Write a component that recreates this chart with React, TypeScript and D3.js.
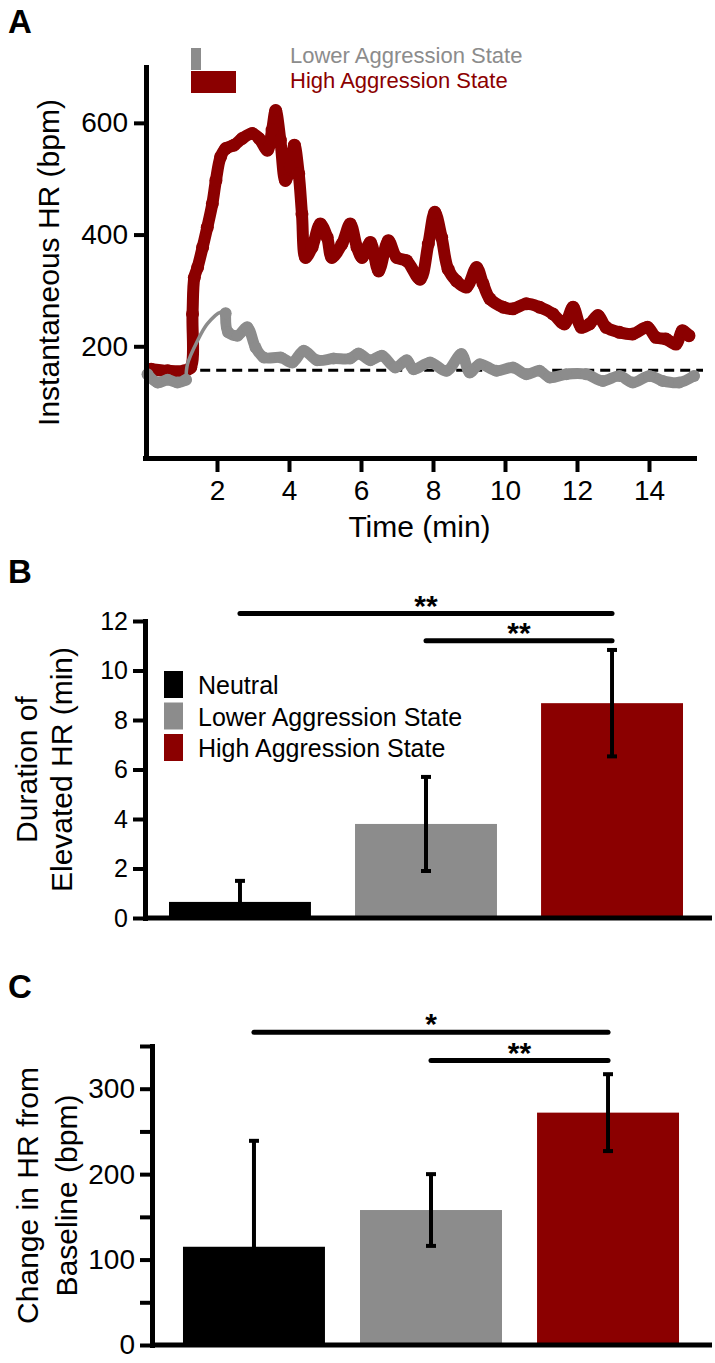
import React, { useEffect, useRef } from "react";
import * as d3 from "d3";

const RED = "#8b0000";
const GRAY = "#8c8c8c";
const FONT = "'Liberation Sans', Arial, Helvetica, sans-serif";

// Panel A: instantaneous HR traces, [time (min), HR (bpm)]
const highTrace = [
  [0.17, 159], [0.63, 156], [1.09, 156], [1.27, 162], [1.32, 258], [1.37, 323],
  [1.46, 341], [1.6, 377], [1.73, 413], [1.87, 455], [1.97, 497], [2.1, 539],
  [2.24, 554], [2.47, 560], [2.7, 572], [2.98, 581], [3.17, 572], [3.4, 551],
  [3.53, 587], [3.63, 622], [3.76, 569], [3.9, 497], [4.04, 521], [4.15, 560],
  [4.27, 509], [4.36, 437], [4.46, 359], [4.64, 377], [4.87, 419], [5.06, 395],
  [5.19, 359], [5.47, 383], [5.7, 419], [5.89, 377], [6.03, 359], [6.26, 386],
  [6.49, 335], [6.76, 389], [6.99, 359], [7.27, 353], [7.64, 320], [7.87, 383],
  [8.05, 440], [8.24, 395], [8.42, 338], [8.65, 317], [8.93, 306], [9.21, 341],
  [9.39, 312], [9.58, 285], [9.95, 270], [10.22, 267], [10.59, 276], [10.96, 270],
  [11.33, 258], [11.65, 240], [11.89, 270], [12.12, 234], [12.35, 240], [12.58, 255],
  [12.81, 234], [13.18, 225], [13.55, 222], [13.96, 234], [14.19, 216], [14.47, 213],
  [14.75, 204], [14.93, 228], [15.11, 219],
];
const lowStart = [[0.07, 150], [0.35, 135], [0.63, 140], [0.9, 135], [1.14, 140]];
const lowRise = [[1.14, 140], [1.18, 168], [1.46, 210], [1.73, 240], [2.1, 261], [2.24, 259]];
const lowTail = [
  [2.24, 259], [2.31, 225], [2.57, 219], [2.84, 234], [3.07, 198], [3.3, 180],
  [3.77, 180], [4.09, 171], [4.41, 192], [4.78, 175], [5.24, 178], [5.7, 178],
  [5.93, 187], [6.26, 175], [6.58, 183], [6.95, 162], [7.27, 175], [7.46, 159],
  [7.92, 171], [8.38, 156], [8.79, 186], [9.02, 153], [9.3, 168], [9.76, 156],
  [10.22, 162], [10.59, 150], [10.96, 156], [11.24, 144], [11.7, 150], [12.25, 150],
  [12.72, 138], [13.18, 147], [13.55, 135], [14.01, 147], [14.38, 138], [14.84, 135],
  [15.25, 147],
];
const baselineHR = 157;
const timeTicks = [2, 4, 6, 8, 10, 12, 14];
const hrTicks = [200, 400, 600];
const traceLegend = ["Lower Aggression State", "High Aggression State"];

// Panels B and C
const groups = ["Neutral", "Lower Aggression State", "High Aggression State"];
const groupColors = ["#000000", GRAY, RED];
const durationMean = [0.65, 3.8, 8.68];
const durationErr = [0.85, 1.9, 2.15];
const durationTicks = [0, 2, 4, 6, 8, 10, 12];
const durationSigFrom = [0, 1];
const durationSigLevel = [12.3, 11.2];
const durationSigText = ["**", "**"];

const changeMean = [115, 158, 272];
const changeErr = [124, 42, 45];
const changeTicks = [0, 50, 100, 150, 200, 250, 300, 350];
const changeSigFrom = [0, 1];
const changeSigLevel = [366, 333];
const changeSigText = ["*", "**"];

function styleAxis(g, size) {
  g.attr("font-family", FONT).attr("font-size", size);
  g.select(".domain").attr("stroke-width", 5).attr("stroke-linecap", "square");
  g.selectAll(".tick line").attr("stroke-width", 4);
  g.selectAll(".tick text").attr("fill", "#000");
}

function panelLetter(svg, letter, y) {
  svg.append("text").attr("x", 8).attr("y", y).attr("font-size", 33)
    .attr("font-weight", "bold").text(letter);
}

function drawBarPanel(svg, o) {
  const x = d3.scaleBand().domain(groups).range(o.xRange)
    .paddingInner(o.padIn).paddingOuter(o.padOut);
  const y = d3.scaleLinear().domain(o.domain).range(o.yRange);
  const cx = (i) => x(groups[i]) + x.bandwidth() / 2;

  svg.append("g").selectAll("rect").data(o.mean).join("rect")
    .attr("x", (d, i) => x(groups[i]))
    .attr("y", (d) => y(d))
    .attr("width", x.bandwidth())
    .attr("height", (d) => y(0) - y(d))
    .attr("fill", (d, i) => groupColors[i]);

  const eb = svg.append("g").attr("stroke", "#000").attr("stroke-width", 4);
  o.mean.forEach((m, i) => {
    const lo = Math.max(0, m - o.err[i]);
    const hi = m + o.err[i];
    eb.append("line").attr("x1", cx(i)).attr("x2", cx(i)).attr("y1", y(lo)).attr("y2", y(hi));
    eb.append("line").attr("x1", cx(i) - 5).attr("x2", cx(i) + 5).attr("y1", y(hi)).attr("y2", y(hi));
    if (lo > 0)
      eb.append("line").attr("x1", cx(i) - 5).attr("x2", cx(i) + 5).attr("y1", y(lo)).attr("y2", y(lo));
  });

  // significance brackets, always ending on the high-aggression bar
  o.sigFrom.forEach((f, i) => {
    const ly = y(o.sigLevel[i]);
    svg.append("line").attr("x1", cx(f)).attr("x2", cx(2)).attr("y1", ly).attr("y2", ly)
      .attr("stroke", "#000").attr("stroke-width", 5).attr("stroke-linecap", "round");
    svg.append("text").attr("x", (cx(f) + cx(2)) / 2).attr("y", ly + 2)
      .attr("text-anchor", "middle").attr("font-size", 30).attr("font-weight", "bold")
      .text(o.sigText[i]);
  });

  const [x0] = o.xRange;
  svg.append("line").attr("x1", x0).attr("x2", o.axisEnd).attr("y1", y(0)).attr("y2", y(0))
    .attr("stroke", "#000").attr("stroke-width", 5);

  const ya = svg.append("g").attr("transform", `translate(${x0},0)`)
    .call(d3.axisLeft(y).tickValues(o.ticks).tickSize(12).tickSizeOuter(0).tickPadding(5)
      .tickFormat(o.tickFormat || ((d) => d)));
  styleAxis(ya, o.tickSize);

  o.label.forEach((t, i) => {
    svg.append("text")
      .attr("transform", `translate(${o.labelX[i]},${(o.yRange[0] + o.yRange[1]) / 2}) rotate(-90)`)
      .attr("text-anchor", "middle").attr("font-size", 30).text(t);
  });
}

export default function App() {
  const svgRef = useRef(null);

  useEffect(() => {
    const svg = d3.select(svgRef.current);
    svg.selectAll("*").remove();
    svg.attr("font-family", FONT);

    // ---------- A ----------
    const xA = d3.scaleLinear().domain([0, 15.25]).range([145, 694]);
    const yA = d3.scaleLinear().domain([0, 700]).range([458, 67]);
    const line = d3.line().x((d) => xA(d[0])).y((d) => yA(d[1])).curve(d3.curveCatmullRom);

    svg.append("line")
      .attr("x1", xA(0.2)).attr("x2", xA(15.5))
      .attr("y1", yA(baselineHR)).attr("y2", yA(baselineHR))
      .attr("stroke", "#000").attr("stroke-width", 3).attr("stroke-dasharray", "10,6");

    const trace = (pts, color, w, r) => {
      svg.append("path").datum(pts).attr("d", line).attr("fill", "none")
        .attr("stroke", color).attr("stroke-width", w)
        .attr("stroke-linejoin", "round").attr("stroke-linecap", "round");
      if (r)
        svg.append("g").selectAll("circle").data(pts).join("circle")
          .attr("cx", (d) => xA(d[0])).attr("cy", (d) => yA(d[1])).attr("r", r).attr("fill", color);
    };
    trace(highTrace, RED, 12, 6.5);
    trace(lowStart, GRAY, 11, 6);
    trace(lowRise, GRAY, 3.5, 0);
    trace(lowTail, GRAY, 11, 6);

    const xAxisA = svg.append("g").attr("transform", `translate(0,${yA(0)})`)
      .call(d3.axisBottom(xA).tickValues(timeTicks).tickSize(14).tickSizeOuter(0).tickPadding(8));
    styleAxis(xAxisA, 28);
    const yAxisA = svg.append("g").attr("transform", `translate(${xA(0) + 1},0)`)
      .call(d3.axisLeft(yA).tickValues(hrTicks).tickSize(12).tickSizeOuter(0).tickPadding(6));
    styleAxis(yAxisA, 28);

    svg.append("text").attr("x", (xA.range()[0] + xA.range()[1]) / 2).attr("y", 537)
      .attr("text-anchor", "middle").attr("font-size", 30).text("Time (min)");
    svg.append("text").attr("transform", `translate(59,${(yA.range()[0] + yA.range()[1]) / 2}) rotate(-90)`)
      .attr("text-anchor", "middle").attr("font-size", 30).text("Instantaneous HR (bpm)");

    svg.append("rect").attr("x", 191).attr("y", 48).attr("width", 10).attr("height", 22).attr("fill", GRAY);
    svg.append("rect").attr("x", 191).attr("y", 71).attr("width", 45).attr("height", 22).attr("fill", RED);
    traceLegend.forEach((t, i) => {
      svg.append("text").attr("x", 290).attr("y", 63 + i * 25).attr("font-size", 22)
        .attr("fill", i === 0 ? GRAY : RED).text(t);
    });
    panelLetter(svg, "A", 33);

    // ---------- B ----------
    drawBarPanel(svg, {
      xRange: [145, 707], padIn: 0.237, padOut: 0.129, axisEnd: 712,
      domain: [0, 12], yRange: [918, 621],
      mean: durationMean, err: durationErr, ticks: durationTicks, tickSize: 25,
      sigFrom: durationSigFrom, sigLevel: durationSigLevel, sigText: durationSigText,
      label: ["Duration of", "Elevated HR (min)"], labelX: [37, 72],
    });
    groups.forEach((g, i) => {
      const top = 671 + i * 31.5;
      svg.append("rect").attr("x", 164).attr("y", top).attr("width", 19).attr("height", 27)
        .attr("fill", groupColors[i]);
      svg.append("text").attr("x", 198).attr("y", top + 23).attr("font-size", 25).text(g);
    });
    panelLetter(svg, "B", 583);

    // ---------- C ----------
    drawBarPanel(svg, {
      xRange: [152, 710], padIn: 0.198, padOut: 0.175, axisEnd: 712,
      domain: [0, 350], yRange: [1345, 1046],
      mean: changeMean, err: changeErr, ticks: changeTicks, tickSize: 28,
      tickFormat: (d) => (d % 100 === 0 ? d : ""),
      sigFrom: changeSigFrom, sigLevel: changeSigLevel, sigText: changeSigText,
      label: ["Change in HR from", "Baseline (bpm)"], labelX: [38, 77],
    });
    panelLetter(svg, "C", 998);
  }, []);

  return (
    <svg
      ref={svgRef}
      width={715}
      height={1363}
      style={{ position: "absolute", left: 0, top: 0, background: "#fff" }}
    />
  );
}
